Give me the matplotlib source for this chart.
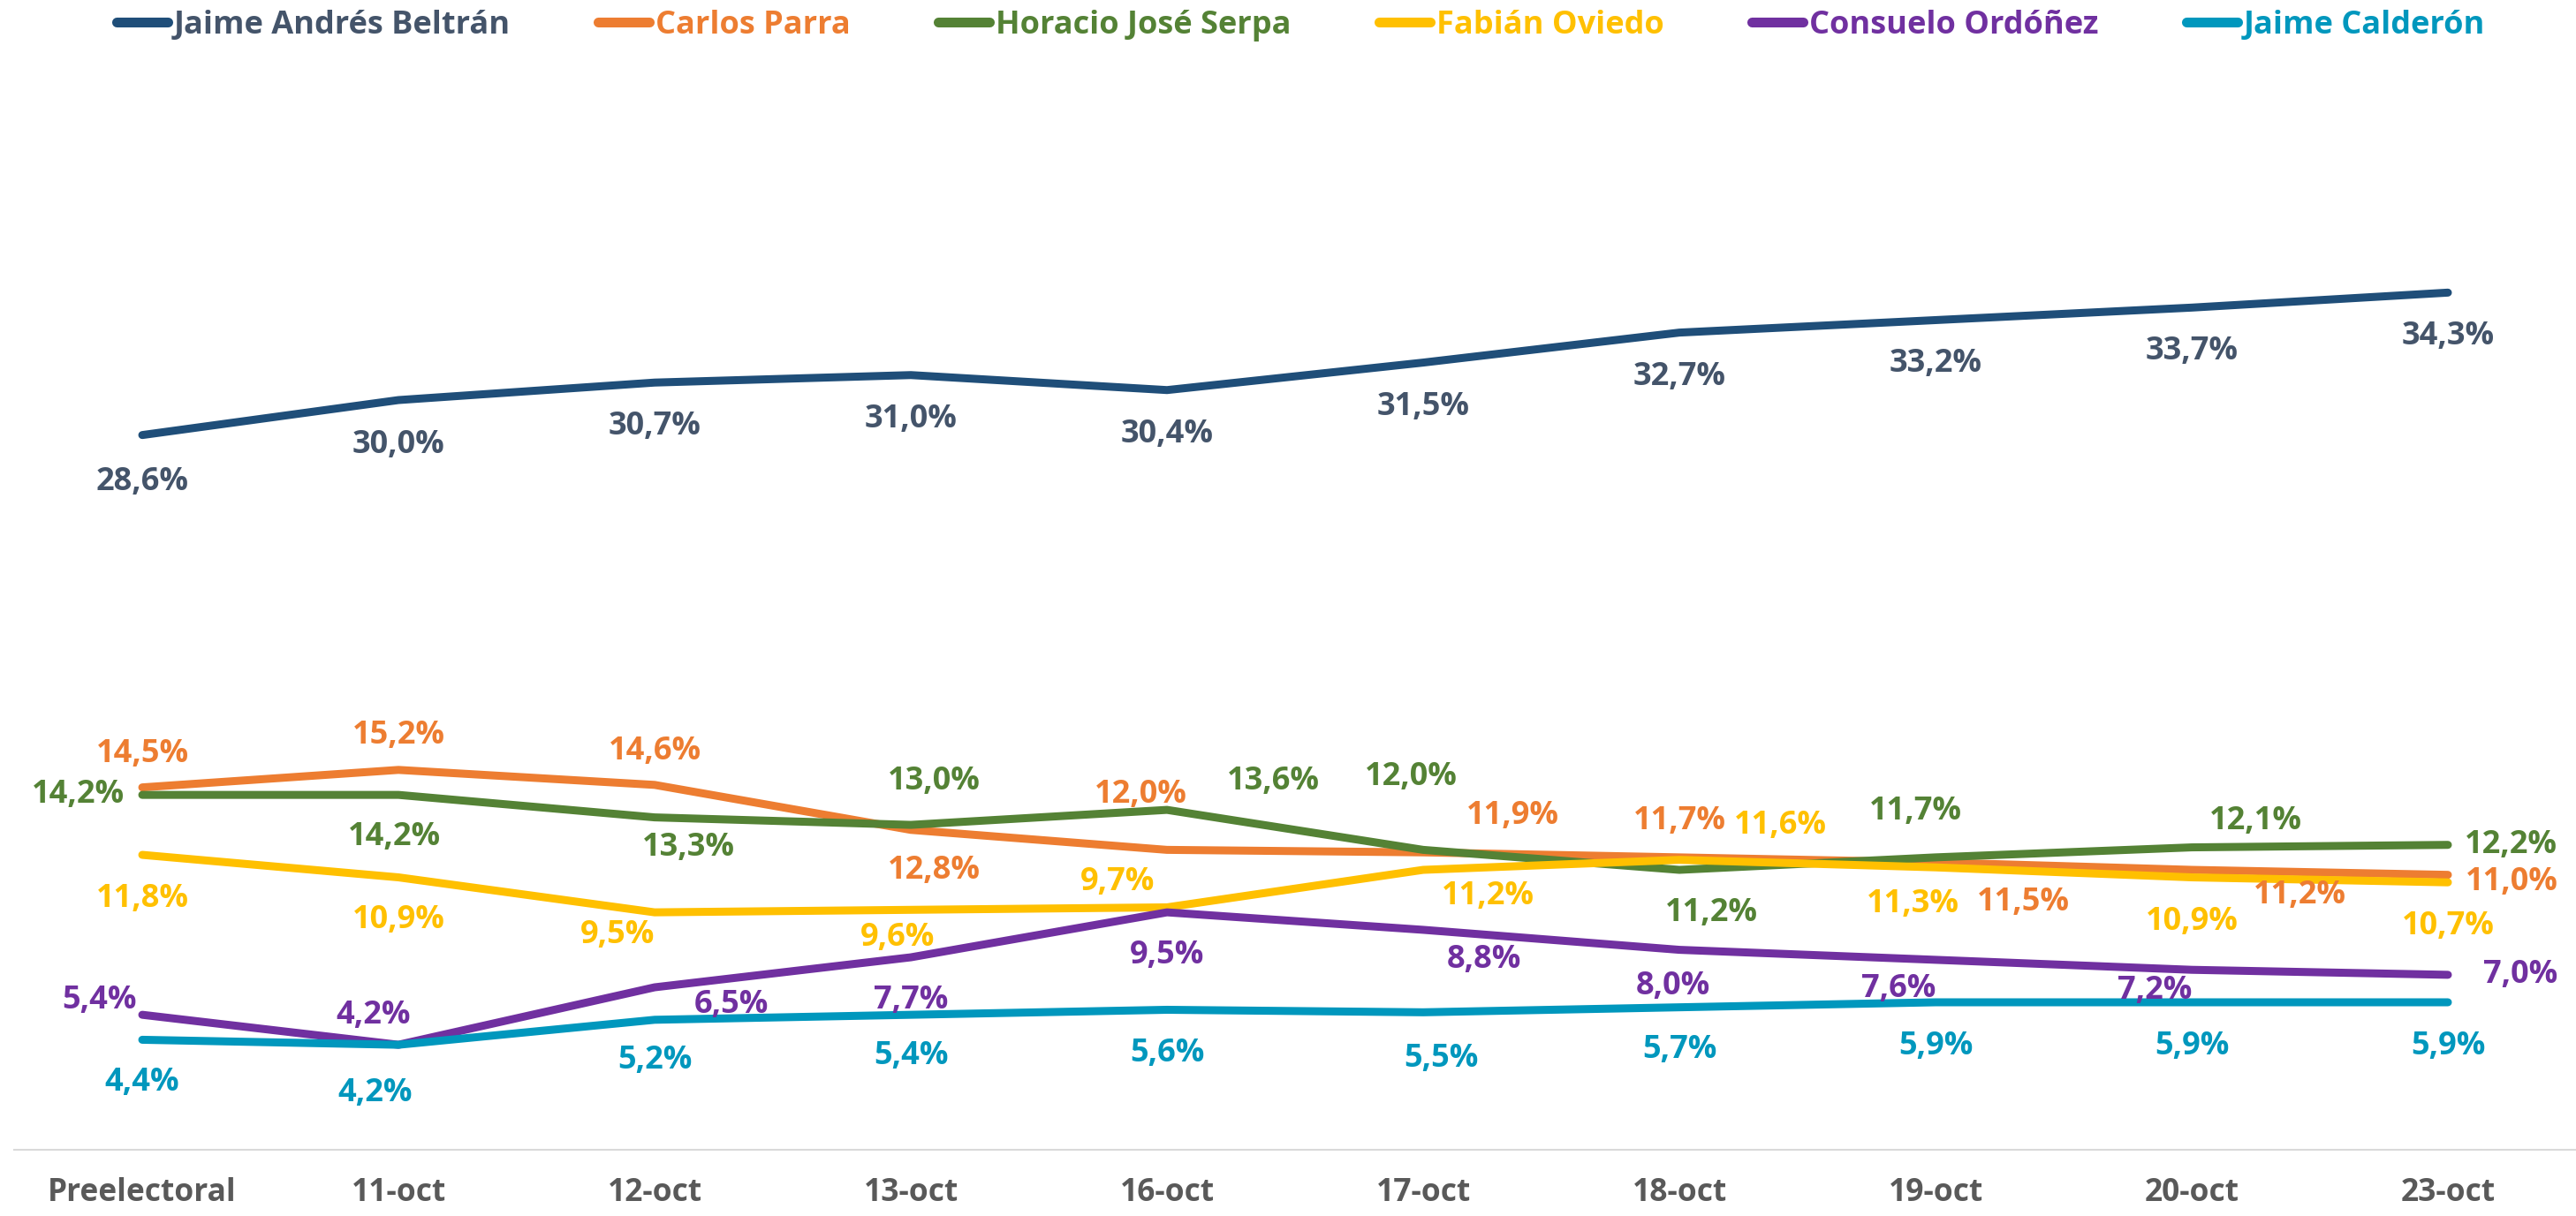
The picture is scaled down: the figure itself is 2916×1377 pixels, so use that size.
import matplotlib
matplotlib.use("Agg")
import matplotlib.pyplot as plt

plt.rcParams['font.family'] = ['Open Sans', 'DejaVu Sans']
plt.rcParams['font.weight'] = 'bold'

# data
categories = ['Preelectoral', '11-oct', '12-oct', '13-oct', '16-oct',
              '17-oct', '18-oct', '19-oct', '20-oct', '23-oct']
candidates = ['Jaime Andrés Beltrán', 'Carlos Parra', 'Horacio José Serpa',
              'Fabián Oviedo', 'Consuelo Ordóñez', 'Jaime Calderón']
beltran = [28.6, 30.0, 30.7, 31.0, 30.4, 31.5, 32.7, 33.2, 33.7, 34.3]
parra = [14.5, 15.2, 14.6, 12.8, 12.0, 11.9, 11.7, 11.5, 11.2, 11.0]
serpa = [14.2, 14.2, 13.3, 13.0, 13.6, 12.0, 11.2, 11.7, 12.1, 12.2]
oviedo = [11.8, 10.9, 9.5, 9.6, 9.7, 11.2, 11.6, 11.3, 10.9, 10.7]
ordonez = [5.4, 4.2, 6.5, 7.7, 9.5, 8.8, 8.0, 7.6, 7.2, 7.0]
calderon = [4.4, 4.2, 5.2, 5.4, 5.6, 5.5, 5.7, 5.9, 5.9, 5.9]

series = [beltran, parra, serpa, oviedo, ordonez, calderon]
line_colors = ['#1F4E79', '#ED7D31', '#548235', '#FFC000', '#7030A0', '#0097BD']
text_colors = ['#44546A', '#ED7D31', '#548235', '#FFC000', '#7030A0', '#0097BD']

# label offsets in pixels (dx, dy), one per point
offsets = [
    [(0, -53), (0, -51), (0, -50), (0, -50), (0, -50), (0, -50), (0, -50), (0, -50), (0, -50), (0, -50)],
    [(0, 38), (0, 39), (0, 38), (26, -46), (-30, 62), (101, 41), (0, 41), (99, -45), (122, -29), (72, -8)],
    [(-73, 0), (-5, -48), (38, -34), (26, 49), (120, 32), (-14, 82), (36, -49), (-23, 52), (72, 30), (71, 0)],
    [(0, -50), (0, -48), (-42, -26), (-15, -32), (-56, 28), (73, -30), (114, 39), (-26, -42), (0, -50), (0, -50)],
    [(-49, 16), (-28, 33), (87, -20), (0, -49), (0, -49), (69, -34), (-7, -41), (-42, -33), (-42, -24), (82, 0)],
    [(0, -49), (-26, -55), (0, -46), (0, -47), (0, -50), (20, -53), (0, -48), (0, -50), (0, -50), (0, -50)],
]

fig = plt.figure(figsize=(29.16, 13.77), dpi=100)
ax = fig.add_axes([0.0055, 0.0545, 0.9945, 0.822])

x = list(range(len(categories)))
handles = []
for vals, name, lc, tc, offs in zip(series, candidates, line_colors, text_colors, offsets):
    h, = ax.plot(x, vals, color=lc, lw=6.5, solid_capstyle='round',
                 solid_joinstyle='round', label=name)
    handles.append(h)
    for i, v in enumerate(vals):
        ax.annotate(f"{v:.1f}%".replace('.', ','), (i, v), xytext=offs[i],
                    textcoords='offset pixels', ha='center', va='center',
                    fontsize=26, fontweight='bold', color=tc,
                    annotation_clip=False)

ax.set_xlim(-0.5, len(categories) - 0.5)
ax.set_ylim(0, 40)
ax.set_xticks(x)
ax.set_xticklabels(categories, fontsize=25.5, fontweight='bold', color='#595959')
ax.set_yticks([])
ax.tick_params(axis='x', length=0, pad=22)
for s in ['top', 'right', 'left']:
    ax.spines[s].set_visible(False)
ax.spines['bottom'].set_color('#D9D9D9')
ax.spines['bottom'].set_linewidth(1.5)

leg = fig.legend(handles, candidates, loc='center', bbox_to_anchor=(0.505, 0.979),
                 ncol=6, frameon=False, fontsize=26, handlelength=1.6,
                 handletextpad=0.2, columnspacing=2.75)
for t, c in zip(leg.get_texts(), text_colors):
    t.set_color(c)
    t.set_fontweight('bold')
for lh in leg.get_lines():
    lh.set_linewidth(8)
    lh.set_solid_capstyle('round')

fig.savefig('out.png', dpi=100)
